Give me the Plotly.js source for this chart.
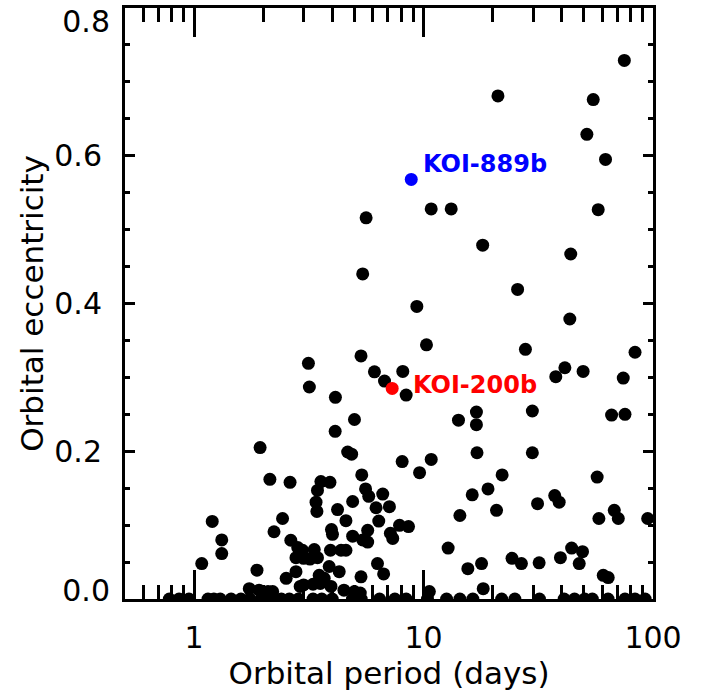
<!DOCTYPE html>
<html><head><meta charset="utf-8">
<script src="https://cdn.plot.ly/plotly-3.0.1.min.js"></script>
<style>html,body{margin:0;padding:0;background:#fff}</style>
</head><body><div id="chart" style="width:710px;height:697px"></div>
<script>
// Orbital period (days) of the sample planets
const periods = [
 75,21.1,54.9,51.5,62.1,10.8,13.2,57.7,5.62,18.1,
 43.8,5.43,25.7,9.35,43.4,10.3,27.8,83.5,5.34,3.15,
 8.12,41.3,37.7,49.6,74.2,6.11,6.76,8.40,3.18,4.13,
 14.2,17.0,17.0,29.8,66.0,75.5,5.0,4.12,17.1,29.8,
 1.94,4.67,4.86,8.07,10.8,9.61,22.0,57.1,5.38,2.14,
 2.62,3.57,3.91,3.45,5.59,5.77,6.64,19.1,16.3,37.3,
 39.0,31.4,3.40,4.91,6.21,7.10,3.43,4.22,20.8,14.4,
 58.1,67.8,70.6,94.8,1.20,2.43,4.59,6.38,7.86,8.6,
 2.23,3.97,4.01,5.71,4.91,5.43,5.71,7.17,7.34,1.32,
 1.32,2.64,2.83,2.97,3.34,3.93,4.37,4.59,2.78,3.0,
 3.2,3.45,12.8,44.2,49.3,39.5,47.7,24.3,26.7,31.9,
 17.9,15.6,60.7,63.8,18.2,10.6,6.3,6.7,1.08,1.88,
 3.88,4.29,2.78,2.52,3.51,3.69,5.34,2.9,3.0,3.3,
 3.55,3.95,1.74,1.92,2.1,2.2,4.5,5.0,5.3,
 0.78,0.86,0.95,1.15,1.22,1.3,1.45,1.6,1.75,1.96,
 2.17,2.4,2.6,2.85,3.3,3.6,4.0,4.9,5.35,6.43,
 7.5,8.4,10.4,12.6,14.4,16.4,21.9,25,32,41,
 45.5,50.4,54.4,63.7,75.5,83.5,92.4
];
// Orbital eccentricity of the sample planets
const eccentricities = [
 0.729,0.681,0.676,0.629,0.595,0.528,0.528,0.527,0.516,0.479,
 0.467,0.440,0.419,0.396,0.379,0.344,0.338,0.334,0.329,0.319,
 0.308,0.313,0.301,0.308,0.299,0.3075,0.295,0.276,0.287,0.273,
 0.242,0.253,0.236,0.2545,0.249,0.250,0.243,0.227,0.198,0.198,
 0.205,0.199,0.196,0.186,0.189,0.171,0.168,0.165,0.168,0.162,
 0.158,0.159,0.158,0.147,0.149,0.139,0.142,0.149,0.141,0.140,
 0.131,0.129,0.131,0.132,0.1235,0.125,0.1185,0.121,0.120,0.113,
 0.109,0.120,0.109,0.109,0.105,0.109,0.106,0.1055,0.0997,0.098,
 0.091,0.094,0.0875,0.093,0.085,0.080,0.077,0.089,0.082,0.080,
 0.0615,0.0795,0.0696,0.066,0.067,0.066,0.066,0.066,0.056,0.055,
 0.054,0.056,0.069,0.069,0.064,0.056,0.048,0.055,0.048,0.049,
 0.048,0.041,0.032,0.029,0.014,0.010,0.048,0.034,0.048,0.039,
 0.044,0.037,0.037,0.028,0.032,0.028,0.030,0.017,0.019,0.020,
 0.021,0.017,0.014,0.012,0.010,0.010,0.012,0.010,0.008,
 0,0,0,0,0,0,0,0,0,0,
 0,0,0,0,0,0,0,0,0,0,
 0,0,0,0,0,0,0,0,0,0,
 0,0,0,0,0,0,0
];
// Highlighted planets
const highlightNames = ["KOI-889b", "KOI-200b"];
const highlightPeriods = [8.84, 7.30];
const highlightEcc = [0.568, 0.285];
const highlightColors = ["#0000ff", "#ff0000"];
// Axis ticks
const xTickVals = [1, 10, 100];
const xTickText = ["1", "10", "100"];
const xMinorVals = [0.6,0.7,0.8,0.9,2,3,4,5,6,7,8,9,20,30,40,50,60,70,80,90];
const yTickVals = [0.2, 0.4, 0.6];
const yTickText = ["0.2", "0.4", "0.6"];
const yMinorVals = [0,0.05,0.1,0.15,0.25,0.3,0.35,0.45,0.5,0.55,0.65,0.7,0.75,0.8];
const yBottomVals = [0];
const yBottomText = ["0.0"];
const yTopVals = [0.8];
const yTopText = ["0.8"];

const FONT = "DejaVu Sans, sans-serif";
const YRANGE = [0, 0.8];

const traces = [
 {type:"scatter", mode:"markers", x:periods, y:eccentricities,
  marker:{color:"#000", size:13, line:{width:0}}, hoverinfo:"skip", showlegend:false},
 {type:"scatter", mode:"markers", x:highlightPeriods, y:highlightEcc,
  marker:{color:highlightColors, size:13, line:{width:0}}, hoverinfo:"skip", showlegend:false}
];

const annotations = highlightNames.map((n,i)=>({
  x: Math.log10(highlightPeriods[i]), y: highlightEcc[i], xref:"x", yref:"y",
  text: "<b>"+n+"</b>", showarrow:false, xanchor:"left", yanchor:"middle",
  xshift: i===0 ? 10 : 19, yshift: i===0 ? 15 : 3,
  font:{family:FONT, size:24, color:highlightColors[i]}
}));

// helper axes carrying only the end labels (IDL keeps them inside the axis span)
const endLabelAxis = (vals, text, shift) => ({
  range:YRANGE, overlaying:"y", side:"left", showgrid:false, zeroline:false,
  showline:false, ticks:"", tickmode:"array", tickvals:vals, ticktext:text,
  ticklabelstandoff:14, ticklabelshift:shift, ticklabeloverflow:"allow",
  tickfont:{family:FONT, size:30, color:"#000"}
});

const layout = {
  width:710, height:697,
  margin:{l:125, r:57, t:5, b:98},
  paper_bgcolor:"#fff", plot_bgcolor:"#fff",
  font:{family:FONT, color:"#000", size:30},
  showlegend:false,
  xaxis:{type:"log", range:[Math.log10(0.5), 2], showgrid:false, zeroline:false,
    showline:true, linecolor:"#000", linewidth:3, mirror:"ticks",
    ticks:"inside", ticklen:29, tickwidth:3, tickcolor:"#000",
    tickmode:"array", tickvals:xTickVals, ticktext:xTickText,
    tickfont:{family:FONT, size:30}, ticklabelstandoff:10,
    minor:{tickmode:"array", tickvals:xMinorVals, ticks:"inside", ticklen:14, tickwidth:3, tickcolor:"#000", showgrid:false},
    automargin:true,
    title:{text:"Orbital period (days)", font:{family:FONT, size:31}, standoff:0}},
  yaxis:{range:YRANGE, showgrid:false, zeroline:false,
    showline:true, linecolor:"#000", linewidth:3, mirror:"ticks",
    ticks:"inside", ticklen:10, tickwidth:3, tickcolor:"#000",
    tickmode:"array", tickvals:yTickVals, ticktext:yTickText,
    tickfont:{family:FONT, size:30}, ticklabelstandoff:14,
    minor:{tickmode:"array", tickvals:yMinorVals, ticks:"inside", ticklen:5, tickwidth:3, tickcolor:"#000", showgrid:false},
    automargin:true,
    title:{text:"Orbital eccentricity", font:{family:FONT, size:31}, standoff:2}},
  yaxis2: endLabelAxis(yBottomVals, yBottomText, -9),
  yaxis3: endLabelAxis(yTopVals, yTopText, 13),
  annotations: annotations
};

// empty anchor traces so the helper axes are drawn
traces.push({type:"scatter", mode:"markers", x:[], y:[], yaxis:"y2", hoverinfo:"skip", showlegend:false});
traces.push({type:"scatter", mode:"markers", x:[], y:[], yaxis:"y3", hoverinfo:"skip", showlegend:false});

Plotly.newPlot("chart", traces, layout, {displayModeBar:false, staticPlot:true});
</script></body></html>
